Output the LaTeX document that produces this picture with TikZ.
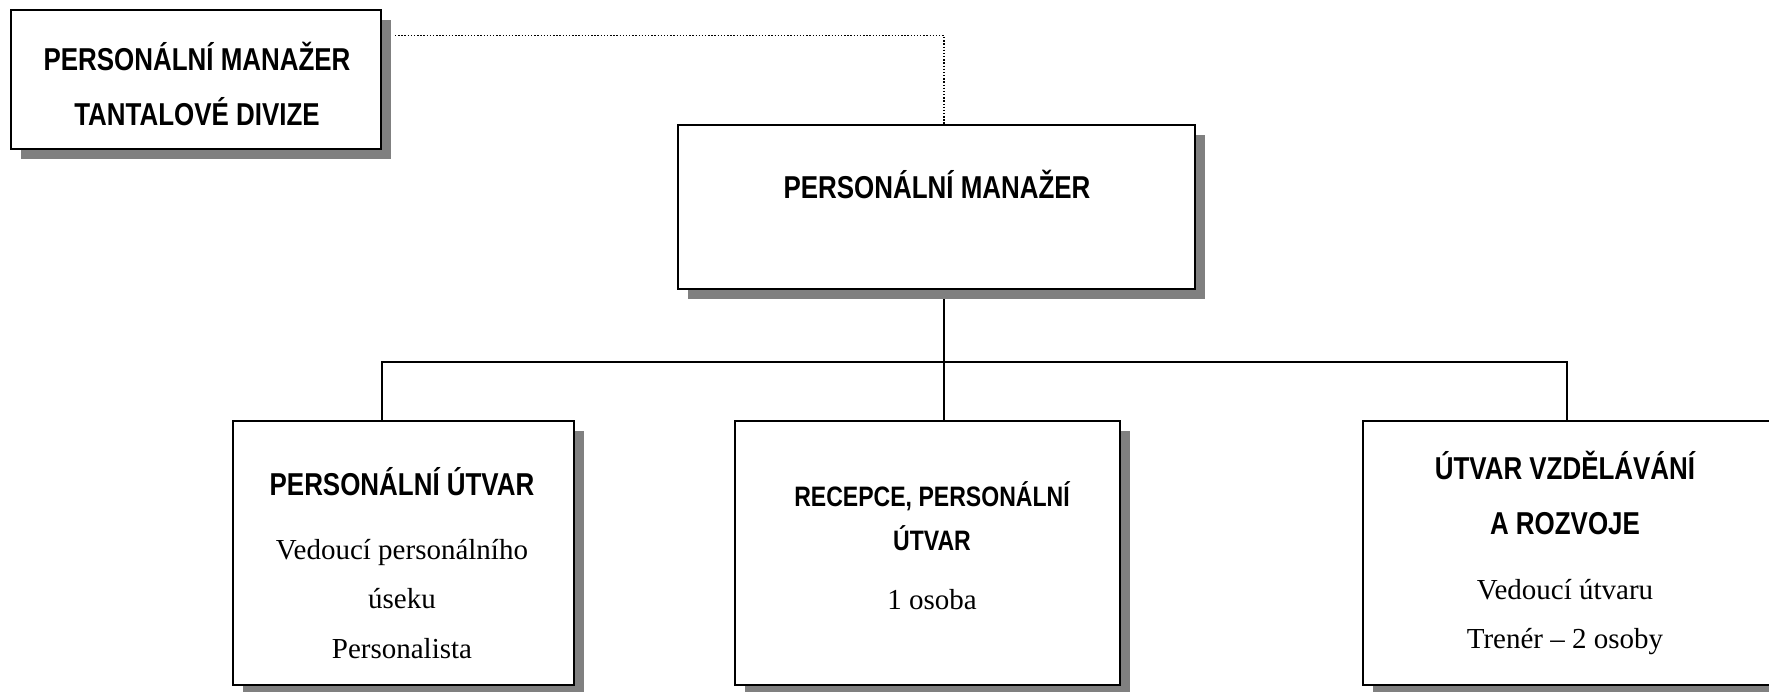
\documentclass[tikz,border=0pt]{standalone}
\usepackage{fontspec}
\setmainfont{Liberation Serif}
\newfontfamily\uzke[FakeStretch=0.82]{Liberation Sans}
\usetikzlibrary{shadows, backgrounds}

\begin{document}
\begin{tikzpicture}[
  ramec/.style={draw, line width=1.1pt, fill=white, drop shadow={shadow xshift=0.2cm, shadow yshift=-0.2cm, fill=black!50, opacity=1}},
  nadpis/.style={font=\uzke\bfseries\fontsize{18}{22}\selectfont, inner sep=0pt, anchor=base},
  mensi/.style={font=\uzke\bfseries\fontsize{16}{19}\selectfont},
  popis/.style={font=\fontsize{16.5}{20}\selectfont, inner sep=0pt, anchor=base},
  spoj/.style={line width=1.1pt}
]
\useasboundingbox (0,0) rectangle (35.38,-13.82);

% ramecky
\node[ramec, minimum width=7.40cm, minimum height=2.78cm] (divize) at (3.92,-1.59) {};
\node[ramec, minimum width=10.34cm, minimum height=3.28cm] (manazer) at (18.73,-4.14) {};
\node[ramec, minimum width=6.82cm, minimum height=5.28cm] (personal) at (8.07,-11.06) {};
\node[ramec, minimum width=7.70cm, minimum height=5.28cm] (recepce) at (18.55,-11.06) {};
\node[ramec, minimum width=8.16cm, minimum height=5.28cm] (vzdelavani) at (31.34,-11.06) {};

% texty
\node[nadpis] (divize1) at (3.94,-1.41) {PERSONÁLNÍ MANAŽER};
\node[nadpis] (divize2) at (3.94,-2.50) {TANTALOVÉ DIVIZE};
\node[nadpis] (manazer1) at (18.74,-3.97) {PERSONÁLNÍ MANAŽER};

\node[nadpis] (personal1) at (8.04,-9.90) {PERSONÁLNÍ ÚTVAR};
\node[popis] (personal2) at (8.04,-11.18) {Vedoucí personálního};
\node[popis] (personal3) at (8.04,-12.16) {úseku};
\node[popis] (personal4) at (8.04,-13.16) {Personalista};

\node[nadpis, mensi] (recepce1) at (18.64,-10.12) {RECEPCE, PERSONÁLNÍ};
\node[nadpis, mensi] (recepce2) at (18.64,-11.00) {ÚTVAR};
\node[popis] (recepce3) at (18.64,-12.18) {1 osoba};

\node[nadpis] (vzdelavani1) at (31.30,-9.58) {ÚTVAR VZDĚLÁVÁNÍ};
\node[nadpis] (vzdelavani2) at (31.30,-10.69) {A ROZVOJE};
\node[popis] (vzdelavani3) at (31.30,-11.98) {Vedoucí útvaru};
\node[popis] (vzdelavani4) at (31.30,-12.96) {Trenér -- 2 osoby};

% spojnice
\coordinate (bod1) at (7.64,-7.24);
\coordinate (bod2) at (18.88,-7.24);
\coordinate (bod3) at (31.34,-7.24);
\coordinate (tecky) at (7.90,-0.714);
\begin{scope}[on background layer]
\draw[spoj] (bod2 |- manazer.south) -- (bod2 |- recepce.north);
\draw[spoj] (bod1 |- personal.north) -- (bod1) -- (bod3) -- (bod3 |- vzdelavani.north);
\draw[densely dotted, line width=0.8pt] (tecky) -| (bod2 |- manazer.north);
\end{scope}
\end{tikzpicture}
\end{document}
